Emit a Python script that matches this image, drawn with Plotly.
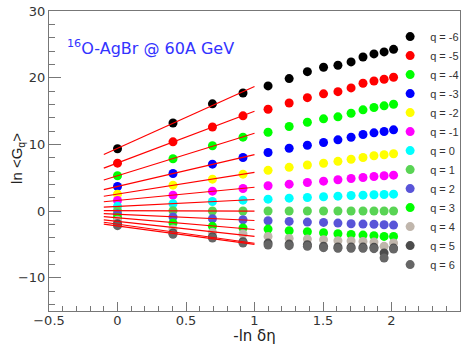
import numpy as np
import plotly.graph_objects as go

# -ln(delta eta) positions
X = [0.0, 0.405, 0.693, 0.916, 1.099, 1.253, 1.386, 1.504, 1.609, 1.705, 1.792, 1.872, 1.946, 2.015]

q_labels = ["q = -6", "q = -5", "q = -4", "q = -3", "q = -2", "q = -1", "q = 0",
            "q = 1", "q = 2", "q = 3", "q = 4", "q = 5", "q = 6"]

y_qm6 = [9.33, 13.2, 16.07, 17.7, 18.76, 19.86, 20.9, 21.56, 21.86, 22.36, 23.1, 23.56, 23.86, 24.25]
y_qm5 = [7.18, 10.37, 12.6, 14.27, 15.27, 16.2, 17.0, 17.57, 17.9, 18.46, 19.16, 19.5, 19.76, 20.06]
y_qm4 = [5.28, 7.83, 9.78, 11.08, 11.82, 12.67, 13.32, 13.82, 14.12, 14.67, 15.17, 15.52, 15.77, 16.02]
y_qm3 = [3.68, 5.63, 7.03, 8.03, 8.78, 9.42, 9.87, 10.27, 10.67, 11.07, 11.47, 11.72, 11.92, 12.17]
y_qm2 = [2.53, 3.88, 4.78, 5.53, 6.1, 6.55, 6.9, 7.17, 7.45, 7.77, 8.03, 8.28, 8.43, 8.58]
y_qm1 = [1.58, 2.38, 2.98, 3.38, 3.78, 4.03, 4.28, 4.48, 4.68, 4.88, 5.03, 5.18, 5.28, 5.38]
y_q0 = [0.7, 1.08, 1.43, 1.63, 1.78, 1.93, 2.03, 2.13, 2.23, 2.33, 2.38, 2.43, 2.48, 2.53]
y_q1 = [0.05, 0.03, 0.0, 0.0, 0.0, 0.0, 0.0, 0.0, 0.0, 0.0, 0.0, 0.0, 0.0, 0.0]
y_q2 = [-0.46, -0.9, -1.16, -1.31, -1.46, -1.56, -1.66, -1.71, -1.81, -1.91, -1.96, -1.98, -2.06, -2.11]
y_q3 = [-0.96, -1.8, -2.3, -2.55, -2.71, -2.96, -3.11, -3.26, -3.41, -3.51, -3.61, -3.71, -3.81, -3.81]
y_q4 = [-1.4, -2.7, -3.2, -3.45, -3.81, -4.11, -4.21, -4.3, -4.45, -4.5, -4.56, -4.66, -5.3, -4.8]
y_q5 = [-1.9, -3.3, -3.85, -4.6, -4.81, -4.96, -5.06, -5.3, -5.4, -5.41, -5.41, -5.45, -6.3, -5.56]
y_q6 = [-2.2, -3.5, -4.05, -4.8, -5.11, -5.2, -5.3, -5.5, -5.6, -5.6, -5.6, -5.65, -7.05, -5.7]

err_q5 = [0, 0, 0, 0, 0.3, 0.3, 0.3, 0.5, 0.5, 0.5, 0.5, 0.5, 0.5, 0.5]
err_q6 = [0, 0, 0, 0, 0.3, 0.3, 0.3, 0.5, 0.5, 0.5, 0.5, 0.5, 0.5, 0.5]

series = [y_qm6, y_qm5, y_qm4, y_qm3, y_qm2, y_qm1, y_q0, y_q1, y_q2, y_q3, y_q4, y_q5, y_q6]
errors = [None] * 11 + [err_q5, err_q6]
colors = ["#000000", "#ff0000", "#00ff00", "#0000ff", "#ffff00", "#ff00ff", "#00ffff",
          "#59d454", "#5954d8", "#00ff00", "#c0b6ac", "#4c4c4c", "#666666"]

N_FIT = 4
FIT_RANGE = [-0.1, 1.0]

FONT = "DejaVu Sans"

fig = go.Figure()
for lab, ys, col, err in zip(q_labels, series, colors, errors):
    kw = {}
    if err is not None:
        kw["error_y"] = dict(type="data", array=err, visible=True, color=col,
                             thickness=1, width=2)
    fig.add_trace(go.Scatter(x=X, y=ys, mode="markers", name=lab,
                             marker=dict(color=col, size=9, line=dict(width=0)), **kw))

for ys in series:
    slope, icpt = np.polyfit(X[:N_FIT], ys[:N_FIT], 1)
    xf = np.array(FIT_RANGE)
    fig.add_trace(go.Scatter(x=xf, y=slope * xf + icpt, mode="lines",
                             line=dict(color="#ff0000", width=1.2),
                             showlegend=False, hoverinfo="skip"))

axis_common = dict(showline=True, linecolor="#777777", linewidth=1, mirror=True,
                   showgrid=False, zeroline=False, ticks="inside", tickcolor="#777777",
                   tickfont=dict(family=FONT, size=13, color="#333333"))

fig.update_xaxes(range=[-0.5, 2.5], dtick=0.5, tick0=0, ticklen=9, ticklabelstandoff=-3,
                 minor=dict(dtick=0.1, ticklen=5, ticks="inside", tickcolor="#777777"),
                 title=dict(text="-ln δη", font=dict(family=FONT, size=15, color="#222222"),
                            standoff=0),
                 **axis_common)
fig.update_yaxes(range=[-15, 30], dtick=10, tick0=0, ticklen=12,
                 minor=dict(dtick=2, ticklen=6, ticks="inside", tickcolor="#777777"),
                 **axis_common)

fig.add_annotation(xref="paper", yref="paper", x=-0.078, y=0.51,
                   xanchor="center", yanchor="middle",
                   text="ln &lt;G<sub>q</sub>&gt;", textangle=-90, showarrow=False,
                   font=dict(family="Liberation Sans", size=15, color="#222222"))
fig.add_annotation(xref="paper", yref="paper", x=0.04, y=0.88, xanchor="left", yanchor="middle",
                   text="<sup>16</sup>O-AgBr @ 60A GeV", showarrow=False,
                   font=dict(family=FONT, size=16, color="#3333ff"))

fig.update_layout(
    width=469, height=345,
    margin=dict(l=49, r=9, t=11, b=34, autoexpand=False),
    paper_bgcolor="white", plot_bgcolor="white",
    showlegend=True,
    legend=dict(x=0.83, y=0.963, xanchor="left", yanchor="top",
                bgcolor="rgba(0,0,0,0)", borderwidth=0,
                font=dict(family="Liberation Sans", size=11, color="#333333"),
                itemwidth=30),
)

fig.write_html("out.html")
